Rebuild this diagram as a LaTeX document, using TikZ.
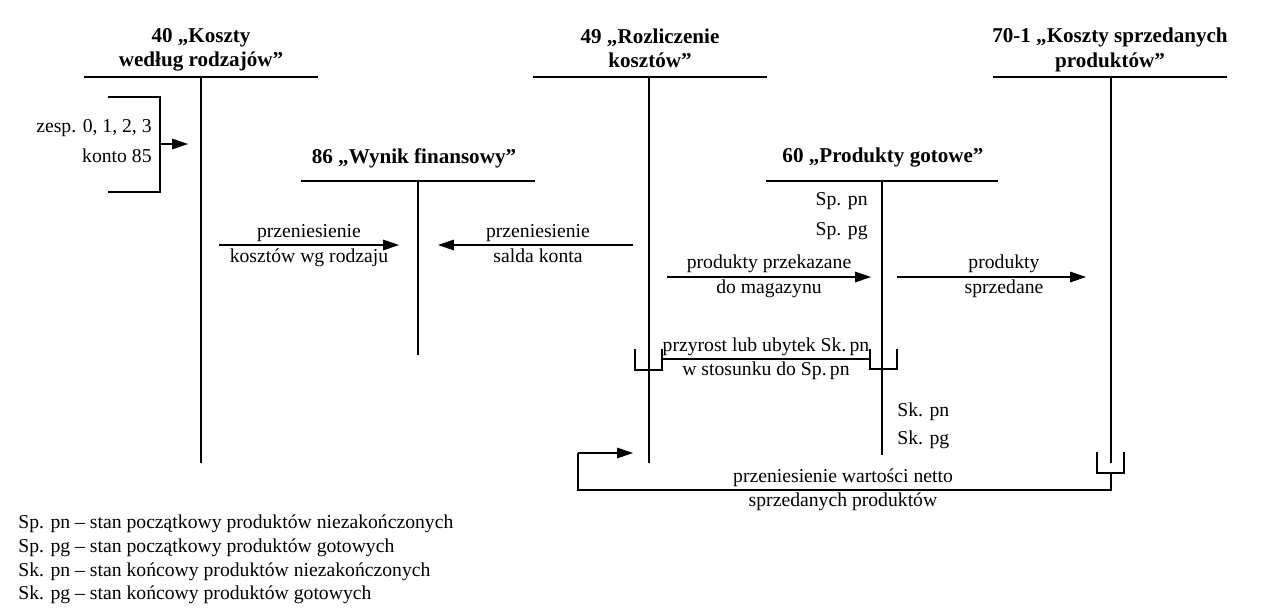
\documentclass[tikz,border=0pt]{standalone}
\usepackage{fontspec}
\setmainfont{Liberation Serif}
\usetikzlibrary{arrows.meta,positioning}

\tikzset{
  tytul/.style={font=\bfseries\fontsize{12}{13.8}\selectfont, align=center, inner sep=0pt},
  opis/.style={font=\fontsize{11.2}{13}\selectfont, inner sep=0pt, anchor=mid},
  konto/.style={line width=1.15pt},
  cienka/.style={line width=0.6pt},
  strz/.style={cienka,-{Triangle[length=9pt,width=6pt]}},
}

\begin{document}
\begin{tikzpicture}[x={(0.02cm,0)},y={(0,-0.02cm)}]
\useasboundingbox (0,0) rectangle (1261,609);

% konta teowe
\node[tytul] (t40) at (201,50) {40 „Koszty\\według rodzajów”};
\draw[konto] (84,77) -- (318,77);
\draw[konto] (201,77) coordinate (k40) -- (201,463) coordinate (k40d);

\node[tytul] (t49) at (650,48.5) {49 „Rozliczenie\\kosztów”};
\draw[konto] (533,77) -- (767,77);
\draw[konto] (649,77) coordinate (k49) -- (649,463) coordinate (k49d);

\node[tytul] (t70) at (1110,50) {70-1 „Koszty sprzedanych\\produktów”};
\draw[konto] (993,77) -- (1227,77);
\draw[konto] (1111,77) coordinate (k70) -- (1111,463) coordinate (k70d);

\node[tytul] (t86) at (414,158) {86 „Wynik finansowy”};
\draw[konto] (301,181) -- (535,181);
\draw[konto] (418,181) coordinate (k86) -- (418,355) coordinate (k86d);

\node[tytul] (t60) at (883,158) {60 „Produkty gotowe”};
\draw[konto] (766,181) -- (998,181);
\draw[konto] (882,181) coordinate (k60) -- (882,455) coordinate (k60d);

% zespoly 0, 1, 2, 3
\node[opis,anchor=mid east] (zesp) at (152,128) {zesp. 0, 1, 2, 3};
\node[opis,anchor=mid east] (k85) at (152,158) {konto 85};
\coordinate (zg) at (108,97);
\coordinate (zd) at (108,192);
\coordinate (zs) at (160,144);
\coordinate (z40) at (188,144);
\draw[cienka] (zg) -- (zg -| zs) -- (zd -| zs) -- (zd);
\draw[strz] (zs) -- (z40);

% 40 -> 86
\node[opis] (p1a) at (309,233) {przeniesienie};
\node[opis] (p1b) at (309,258) {kosztów wg rodzaju};
\coordinate (a1) at (219,245);
\coordinate (b1) at (399,245);
\draw[strz] (a1) -- (b1);

% 49 -> 86
\node[opis] (p2a) at (538,233) {przeniesienie};
\node[opis] (p2b) at (538,258) {salda konta};
\coordinate (a2) at (633,245);
\coordinate (b2) at (438,245);
\draw[strz] (a2) -- (b2);

% saldo poczatkowe 60
\node[opis,anchor=mid east] (sppn) at (868,201) {Sp. pn};
\node[opis,anchor=mid east] (sppg) at (868,231) {Sp. pg};

% 49 -> 60
\node[opis] (p3a) at (769,264) {produkty przekazane};
\node[opis] (p3b) at (769,289) {do magazynu};
\coordinate (a3) at (667,277);
\coordinate (b3) at (871,277);
\draw[strz] (a3) -- (b3);

% 60 -> 70-1
\node[opis] (p4a) at (1004,264) {produkty};
\node[opis] (p4b) at (1004,289) {sprzedane};
\coordinate (a4) at (897,277);
\coordinate (b4) at (1086,277);
\draw[strz] (a4) -- (b4);

% przyrost lub ubytek
\node[opis] (p5a) at (766,347) {przyrost lub ubytek Sk.\,pn};
\node[opis] (p5b) at (766,371) {w stosunku do Sp.\,pn};
\draw[cienka] (635,349) -- (635,370) -- (662,370) -- (662,349);
\draw[cienka] (870,349) -- (870,369) -- (897,369) -- (897,349);
\coordinate (a5) at (662,359);
\coordinate (b5) at (870,359);
\draw[cienka] (a5) -- (b5);

% saldo koncowe 60
\node[opis,anchor=mid west] (skpn) at (897,412) {Sk. pn};
\node[opis,anchor=mid west] (skpg) at (897,440) {Sk. pg};

% 70-1 -> 49
\node[opis] (p6a) at (843,478) {przeniesienie wartości netto};
\node[opis] (p6b) at (843,502) {sprzedanych produktów};
\draw[cienka] (1097,452) -- (1097,473) -- (1124,473) -- (1124,452);
\coordinate (a6) at (1111,473);
\coordinate (c6) at (578,490);
\coordinate (b6) at (633,453);
\draw[cienka] (a6) -- (a6 |- c6) -- (c6) -- (c6 |- b6);
\draw[strz] (c6 |- b6) -- (b6);

% legenda
\node[opis,anchor=mid west] (leg1) at (18,524) {Sp. pn – stan początkowy produktów niezakończonych};
\node[opis,anchor=mid west] (leg2) at (18,548) {Sp. pg – stan początkowy produktów gotowych};
\node[opis,anchor=mid west] (leg3) at (18,572) {Sk. pn – stan końcowy produktów niezakończonych};
\node[opis,anchor=mid west] (leg4) at (18,595) {Sk. pg – stan końcowy produktów gotowych};
\end{tikzpicture}
\end{document}
